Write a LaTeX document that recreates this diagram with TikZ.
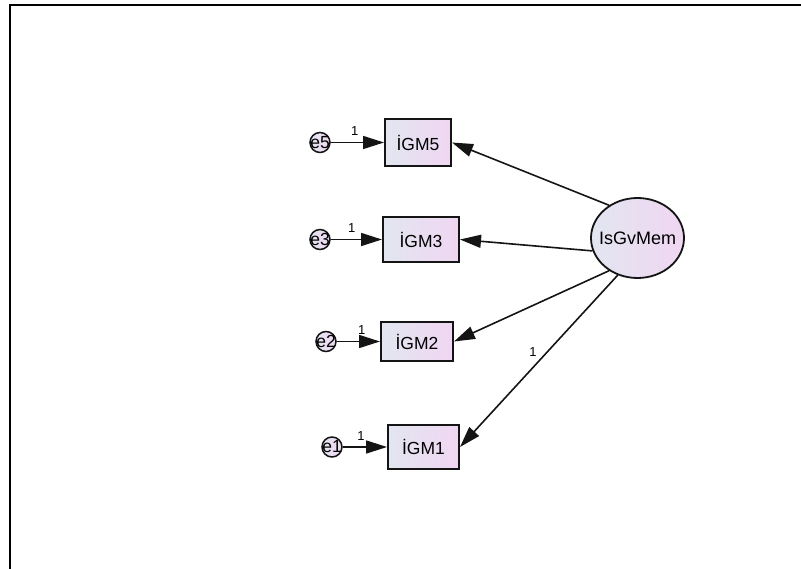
\documentclass[tikz,border=0pt]{standalone}
\usepackage{fontspec}
\setmainfont{Liberation Sans}
\usetikzlibrary{arrows.meta,shapes.geometric}
\definecolor{gA}{HTML}{E2E6F0}
\definecolor{gB}{HTML}{F0D6F2}
\definecolor{ink}{HTML}{141414}
\begin{document}
\begin{tikzpicture}[x=1pt,y=-1pt,
  obs/.style={draw=ink, line width=2pt, left color=gA, right color=gB, inner sep=0pt, font=\fontsize{17.5}{17.5}\selectfont},
  err/.style={circle, draw=ink, line width=1.5pt, left color=gA, right color=gB, minimum size=20pt, inner sep=0pt, font=\fontsize{17.5}{17.5}\selectfont},
  lat/.style={ellipse, draw=ink, line width=1.8pt, left color=gA, right color=gB, minimum width=93pt, minimum height=80pt, inner sep=0pt, font=\fontsize{18}{18}\selectfont},
  reg/.style={line width=1.6pt, draw=ink, -{Triangle[length=21pt,width=13pt]}},
  lbl/.style={font=\fontsize{13}{13}\selectfont, inner sep=0pt}]
\useasboundingbox (0,0) rectangle (801,569);
\draw[line width=2pt] (9.5,569) -- (9.5,5) -- (801,5);
% observed
\node[obs, minimum width=66pt, minimum height=47pt] (g5) at (418,142.5) {İGM5};
\node[obs, minimum width=76pt, minimum height=45pt] (g3) at (421,239.5) {İGM3};
\node[obs, minimum width=72pt, minimum height=39pt] (g2) at (417,341.5) {İGM2};
\node[obs, minimum width=71pt, minimum height=44pt] (g1) at (423.5,447) {İGM1};
% errors
\node[err] (e5) at (320,142.5) {\makebox[0pt]{e5}};
\node[err] (e3) at (320,239.5) {\makebox[0pt]{e3}};
\node[err] (e2) at (326,341.5) {\makebox[0pt]{e2}};
\node[err] (e1) at (332,447) {\makebox[0pt]{e1}};
% latent
\node[lat] (f) at (637.5,238) {\makebox[0pt]{IsGvMem}};
% error paths
\draw[reg] (e5.east) -- (g5.west) node[lbl, pos=0.45, above=6pt] (l5) {1};
\draw[reg] (e3.east) -- (g3.west) node[lbl, pos=0.41, above=6pt] (l3) {1};
\draw[reg] (e2.east) -- (g2.west) node[lbl, pos=0.58, above=6pt] (l2) {1};
\draw[reg] (e1.east) -- (g1.west) node[lbl, pos=0.41, above=6pt] (l1) {1};
% loadings
\draw[reg] (f.131) -- (g5.east);
\draw[reg] (f.196) -- (g3.east);
\draw[reg] (f.229) -- (g2.east);
\draw[reg] (f.242) -- (g1.east);
\node[lbl] (lf) at (533,352) {1};
\end{tikzpicture}
\end{document}
